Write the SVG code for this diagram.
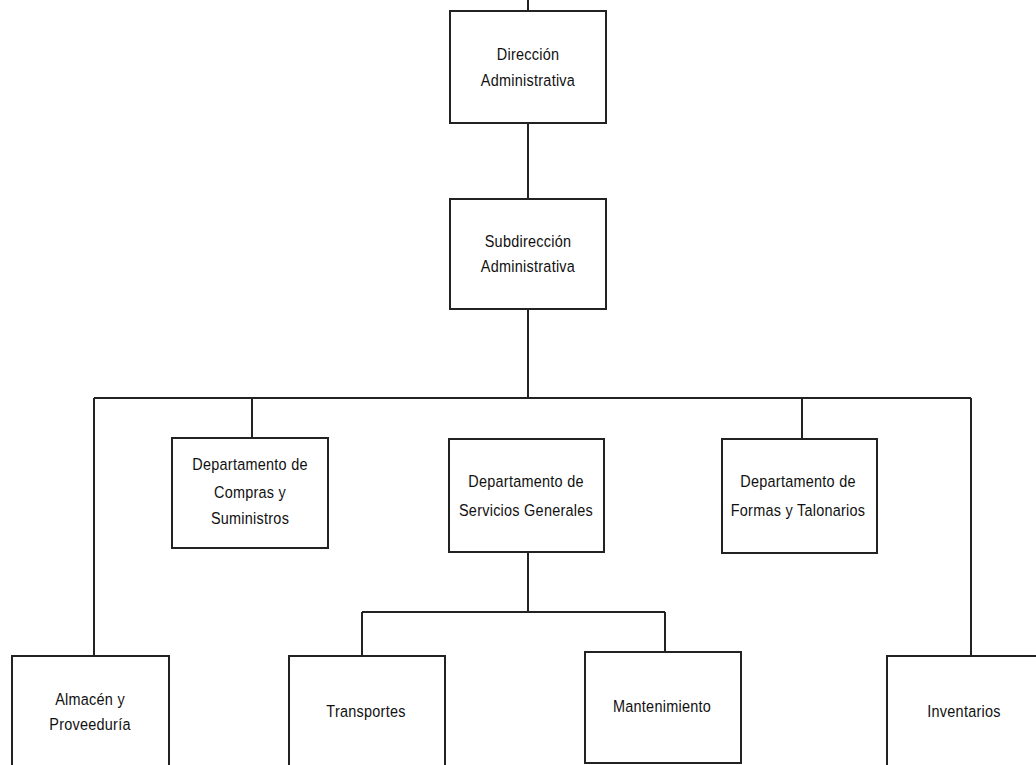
<svg xmlns="http://www.w3.org/2000/svg" width="1036" height="765" viewBox="0 0 1036 765">
  <style>
    .box { fill: #ffffff; stroke: #222222; stroke-width: 2; }
    .wire { fill: none; stroke: #222222; stroke-width: 2; }
    .label { font-family: "Liberation Sans", Arial, sans-serif; font-size: 17px; letter-spacing: 0.3px; fill: #111111; text-anchor: middle; }
  </style>
  <rect width="1036" height="765" fill="#ffffff"/>

  <!-- connectors -->
  <g id="connectors" class="wire">
    <path d="M528 0 V11"/>
    <path d="M528 123 V199"/>
    <path d="M528 309 V398"/>
    <path d="M94 398 H971"/>
    <path d="M94 398 V656"/>
    <path d="M252 398 V438"/>
    <path d="M802 398 V439"/>
    <path d="M971 398 V656"/>
    <path d="M528 552 V612"/>
    <path d="M362 612 H665"/>
    <path d="M362 612 V656"/>
    <path d="M665 612 V652"/>
  </g>

  <!-- labels are horizontally condensed with scale(0.85 1) -->
  <g id="direccion">
    <rect class="box" x="450" y="11" width="156" height="112"/>
    <text class="label" transform="translate(528 60) scale(0.85 1)">Dirección</text>
    <text class="label" transform="translate(528 86) scale(0.85 1)">Administrativa</text>
  </g>

  <g id="subdireccion">
    <rect class="box" x="450" y="199" width="156" height="110"/>
    <text class="label" transform="translate(528 247) scale(0.85 1)">Subdirección</text>
    <text class="label" transform="translate(528 272) scale(0.85 1)">Administrativa</text>
  </g>

  <g id="compras">
    <rect class="box" x="172" y="438" width="156" height="110"/>
    <text class="label" transform="translate(250 470) scale(0.85 1)">Departamento de</text>
    <text class="label" transform="translate(250 498) scale(0.85 1)">Compras y</text>
    <text class="label" transform="translate(250 524) scale(0.85 1)">Suministros</text>
  </g>

  <g id="servicios">
    <rect class="box" x="449" y="439" width="155" height="113"/>
    <text class="label" transform="translate(526 487) scale(0.85 1)">Departamento de</text>
    <text class="label" transform="translate(526 516) scale(0.85 1)">Servicios Generales</text>
  </g>

  <g id="formas">
    <rect class="box" x="722" y="439" width="155" height="114"/>
    <text class="label" transform="translate(798 487) scale(0.85 1)">Departamento de</text>
    <text class="label" transform="translate(798 516) scale(0.85 1)">Formas y Talonarios</text>
  </g>

  <g id="almacen">
    <rect class="box" x="12" y="656" width="157" height="120"/>
    <text class="label" transform="translate(90 705) scale(0.85 1)">Almacén y</text>
    <text class="label" transform="translate(90 730) scale(0.85 1)">Proveeduría</text>
  </g>

  <g id="transportes">
    <rect class="box" x="289" y="656" width="156" height="120"/>
    <text class="label" transform="translate(366 717) scale(0.85 1)">Transportes</text>
  </g>

  <g id="mantenimiento">
    <rect class="box" x="585" y="652" width="156" height="111"/>
    <text class="label" transform="translate(662 712) scale(0.85 1)">Mantenimiento</text>
  </g>

  <g id="inventarios">
    <rect class="box" x="887" y="656" width="160" height="120"/>
    <text class="label" transform="translate(964 717) scale(0.85 1)">Inventarios</text>
  </g>
</svg>
